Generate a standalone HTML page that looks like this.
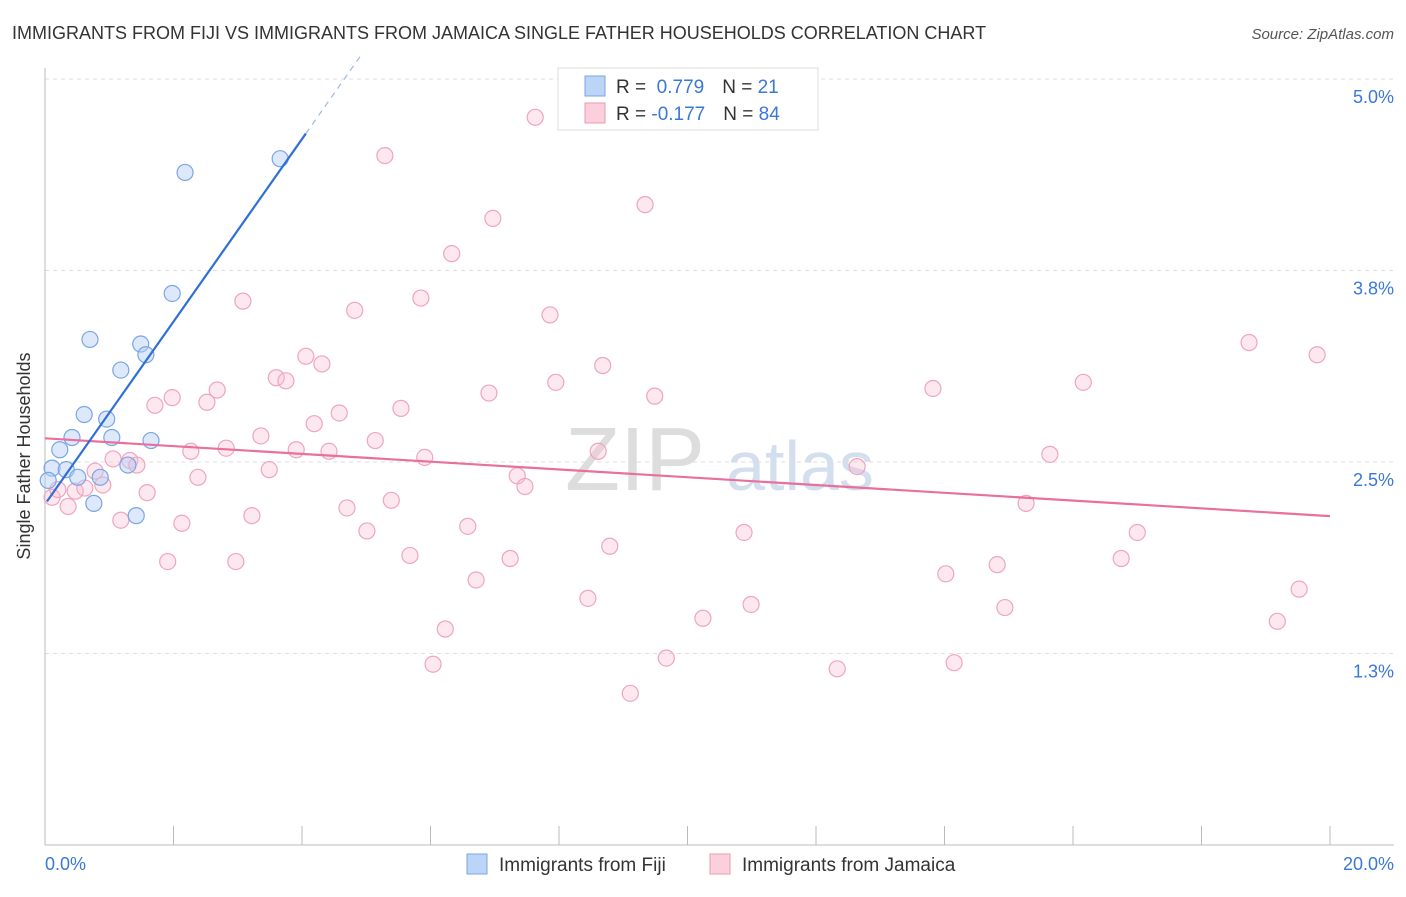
<!DOCTYPE html>
<html><head><meta charset="utf-8"><style>
body{margin:0;background:#fff;font-family:"Liberation Sans",sans-serif;}
svg text{font-family:"Liberation Sans",sans-serif;}
</style></head><body>
<svg id="c" width="1406" height="892">
<text x="12" y="39" font-size="18" fill="#333">IMMIGRANTS FROM FIJI VS IMMIGRANTS FROM JAMAICA SINGLE FATHER HOUSEHOLDS CORRELATION CHART</text>
<text x="1394" y="39" font-size="15" fill="#555" font-style="italic" text-anchor="end">Source: ZipAtlas.com</text>
<text x="30" y="456" font-size="18" fill="#333" text-anchor="middle" transform="rotate(-90 30 456)">Single Father Households</text>
<text x="635" y="490" font-size="90" fill="#ddd" text-anchor="middle" font-family="Liberation Serif">ZIP</text>
<text x="800" y="490" font-size="70" fill="#d3deef" text-anchor="middle">atlas</text>
<g id="grid"></g><g id="axes"></g><g id="marks"></g>
<g>
<rect x="558" y="68" width="260" height="62" fill="#fff" stroke="#ddd"/>
<rect x="585" y="76" width="20" height="20" fill="#bcd4f5" stroke="#7aa6e6"/>
<rect x="585" y="103" width="20" height="20" fill="#fbcfdc" stroke="#ee9ab5"/>
<text x="616" y="93" font-size="19" fill="#333">R = <tspan fill="#3a78d8">&#160;0.779</tspan><tspan dx="18">N = </tspan><tspan fill="#3a78d8"> 21</tspan></text>
<text x="616" y="120" font-size="19" fill="#333">R = <tspan fill="#3a78d8">-0.177</tspan><tspan dx="18">N = </tspan><tspan fill="#3a78d8">84</tspan></text>
</g>
<g>
<rect x="467" y="854" width="20" height="20" fill="#bcd4f5" stroke="#7aa6e6"/>
<text x="499" y="871" font-size="19" fill="#333">Immigrants from Fiji</text>
<rect x="710" y="854" width="20" height="20" fill="#fbcfdc" stroke="#ee9ab5"/>
<text x="742" y="871" font-size="19" fill="#333">Immigrants from Jamaica</text>
</g>
</svg>
<script>
const fijiX=[0.11,0.23,0.33,0.42,0.51,0.61,0.70,0.76,0.86,0.96,1.04,1.18,1.29,1.42,1.49,1.57,1.65,1.98,2.18,3.66,0.05];
const fijiY=[2.46,2.58,2.45,2.66,2.40,2.81,3.30,2.23,2.40,2.78,2.66,3.10,2.48,2.15,3.27,3.20,2.64,3.60,4.39,4.48,2.38];
const jamX=[0.11,0.20,0.36,0.47,0.62,0.78,0.90,1.06,1.18,1.32,1.43,1.59,1.71,1.91,1.98,2.13,2.27,2.38,2.52,2.68,2.82,2.97,3.08,3.22,3.36,3.49,3.60,3.75,3.91,4.06,4.19,4.31,4.42,4.58,4.70,4.82,5.01,5.14,5.29,5.39,5.54,5.68,5.85,5.91,6.04,6.23,6.33,6.58,6.71,6.91,6.97,7.24,7.35,7.47,7.63,7.86,7.95,8.45,8.61,8.68,8.79,9.11,9.34,9.49,9.67,10.24,10.88,10.99,12.33,12.64,13.82,14.02,14.15,14.82,14.94,15.27,15.64,16.16,16.75,17.00,18.74,19.18,19.52,19.80];
const jamY=[2.27,2.32,2.21,2.31,2.33,2.44,2.35,2.52,2.12,2.51,2.48,2.30,2.87,1.85,2.92,2.10,2.57,2.40,2.89,2.97,2.59,1.85,3.55,2.15,2.67,2.45,3.05,3.03,2.58,3.19,2.75,3.14,2.57,2.82,2.20,3.49,2.05,2.64,4.50,2.25,2.85,1.89,3.57,2.53,1.18,1.41,3.86,2.08,1.73,2.95,4.09,1.87,2.41,2.34,4.75,3.46,3.02,1.61,2.57,3.13,1.95,0.99,4.18,2.93,1.22,1.48,2.04,1.57,1.15,2.47,2.98,1.77,1.19,1.83,1.55,2.23,2.55,3.02,1.87,2.04,3.28,1.46,1.67,3.20];
const yTicks=[1.25,2.5,3.75,5.0];
const yTickLabels=["1.3%","2.5%","3.8%","5.0%"];
const xTicks=[0,2,4,6,8,10,12,14,16,18,20];
const NS="http://www.w3.org/2000/svg";
const sx=v=>45+v*64.25, sy=v=>845-v*153.2;
function mk(tag,attrs,parent){const e=document.createElementNS(NS,tag);for(const k in attrs)e.setAttribute(k,attrs[k]);document.getElementById(parent).appendChild(e);return e;}
yTicks.forEach((t,i)=>{
 const l=mk('line',{x1:45,x2:1394,y1:sy(t),y2:sy(t),stroke:'#ddd','stroke-dasharray':'4 4'},'grid');
 
 
 const tx=mk('text',{x:1394,y:sy(t)+24,'font-size':18,fill:'#3a78d8','text-anchor':'end'},'axes');
 tx.textContent=yTickLabels[i];
 
 
});
let a=mk('line',{x1:45,x2:45,y1:68,y2:845,stroke:'#bbb'},'axes');


a=mk('line',{x1:45,x2:1394,y1:845,y2:845,stroke:'#bbb'},'axes');


xTicks.forEach(t=>{
 const l=mk('line',{x1:sx(t),x2:sx(t),y1:826,y2:845,stroke:'#bbb'},'axes');
 
 
});
let t0=mk('text',{x:45,y:870,'font-size':18,fill:'#3a78d8'},'axes');t0.textContent=xTicks[0].toFixed(1)+'%';


let t1=mk('text',{x:1394,y:870,'font-size':18,fill:'#3a78d8','text-anchor':'end'},'axes');t1.textContent=xTicks[xTicks.length-1].toFixed(1)+'%';


function fit(X,Y){const n=X.length;let mx=0,my=0;for(let i=0;i<n;i++){mx+=X[i];my+=Y[i];}mx/=n;my/=n;let sxy=0,sxx=0;for(let i=0;i<n;i++){sxy+=(X[i]-mx)*(Y[i]-my);sxx+=(X[i]-mx)**2;}const b=sxy/sxx;return [my-b*mx,b];}
jamX.forEach((x,i)=>{
 const c=mk('circle',{cx:sx(x),cy:sy(jamY[i]),r:8,fill:'rgba(248,190,208,0.35)',stroke:'#eea5bd','stroke-width':1.2},'marks');
 
 
});
fijiX.forEach((x,i)=>{
 const c=mk('circle',{cx:sx(x),cy:sy(fijiY[i]),r:8,fill:'rgba(180,205,245,0.45)',stroke:'#7aa6e6','stroke-width':1.2},'marks');
 
 
});
const [ja,jb]=fit(jamX,jamY);
let jl=mk('line',{x1:sx(0),y1:sy(ja),x2:sx(20),y2:sy(ja+jb*20),stroke:'#e8709a','stroke-width':2.2},'marks');


const [fa,fb]=fit(fijiX,fijiY);
const fxEnd=Math.max(...fijiX)+0.4, fxDash=(5.15-fa)/fb;
let fl=mk('line',{x1:sx(0.03),y1:sy(fa+fb*0.03),x2:sx(fxEnd),y2:sy(fa+fb*fxEnd),stroke:'#2f6fd6','stroke-width':2.2},'marks');


let fd=mk('line',{x1:sx(fxEnd),y1:sy(fa+fb*fxEnd),x2:sx(fxDash),y2:sy(5.15),stroke:'#9bb8e8','stroke-width':1.2,'stroke-dasharray':'6 5'},'marks');


</script>
</body></html>
